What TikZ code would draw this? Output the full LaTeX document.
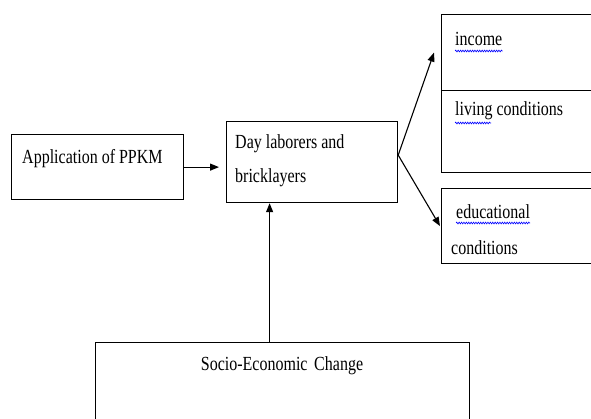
\documentclass[tikz,border=0pt]{standalone}
\usepackage{fontspec}
\setmainfont{Liberation Serif}
\usepackage{graphicx}
\usetikzlibrary{
  arrows.meta,
  decorations.pathmorphing,
  positioning,
}
\tikzstyle{arrow} = [
  -{Triangle[length=9pt,width=7pt]},
  line width=1.1pt,
]
\tikzstyle{box} = [
  draw,
  rectangle,
  line width=1.2pt,
  anchor=north west,
]
\tikzstyle{txt} = [
  inner sep=0pt,
  anchor=base west,
  font=\fontsize{16}{20}\selectfont,
]
\tikzstyle{spell} = [
  draw=blue,
  line width=0.6pt,
  decorate,
  decoration={snake,amplitude=0.9pt,segment length=2.4pt},
]
\newcommand{\tallword}[1]{\scalebox{1}[1.25]{#1}}

\begin{document}
\begin{tikzpicture}[x=1pt,y=-1pt]
      \useasboundingbox (0,0) rectangle (591,418);

      \node[box,minimum width=172pt,minimum height=65pt]    (ppkm)   at (11,134)   {};
      \node[box,minimum width=171pt,minimum height=81pt]    (day)    at (226,121)  {};
      \node[box,minimum width=170pt,minimum height=76pt]    (income) at (441,14)   {};
      \node[box,minimum width=170pt,minimum height=82pt]    (living) at (441,90)   {};
      \node[box,minimum width=170pt,minimum height=75pt]    (edu)    at (441,188)  {};
      \node[box,minimum width=374pt,minimum height=100pt]   (socio)  at (95,342)   {};

      \node[txt] (ppkmtxt)   at (22,163)   {\tallword{Application of PPKM}};
      \node[txt] (daytxta)   at (235,148)  {\tallword{Day laborers and}};
      \node[txt] (daytxtb)   at (235,182)  {\tallword{bricklayers}};
      \node[txt] (incometxt) at (455,45)   {\tallword{income}};
      \node[txt] (livingtxt) at (455,115)  {\tallword{living conditions}};
      \node[txt] (edutxta)   at (456,218)  {\tallword{educational}};
      \node[txt] (edutxtb)   at (451,254)  {\tallword{conditions}};
      \node[txt,anchor=base] (sociotxt) at (282,370) {\tallword{Socio-Economic\, Change}};

      % spelling marks
      \draw[spell] ([yshift=-6pt]incometxt.base west) -- ([yshift=-6pt]incometxt.base east);
      \draw[spell] ([yshift=-8pt]livingtxt.base west) -- ++(36,0);
      \draw[spell] ([yshift=-5pt]edutxta.base west) -- ([yshift=-5pt]edutxta.base east);

      \draw[arrow,shorten >=7pt] (ppkm.east) -- (ppkm.east -| day.west);
      \draw[arrow] ([yshift=7pt]day.east) -- ([xshift=-7pt]income.west);
      \draw[arrow] ([yshift=7pt]day.east) -- ([xshift=-1pt]edu.west);
      \draw[arrow] ([xshift=-13pt]socio.north) -- ([xshift=-13pt]socio.north |- day.south);

    \end{tikzpicture}
\end{document}
